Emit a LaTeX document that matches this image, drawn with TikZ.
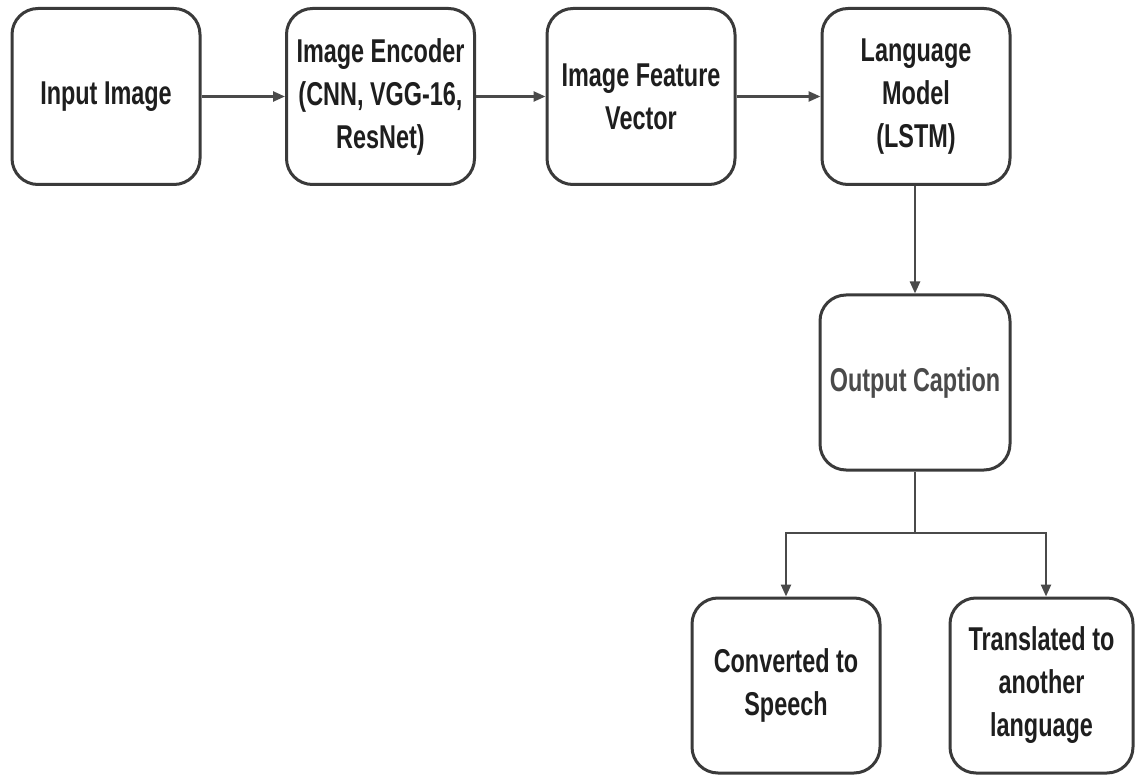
\documentclass[tikz,border=0pt]{standalone}
\usepackage{fontspec}
\setmainfont{Liberation Sans}[FakeStretch=0.71]
\usetikzlibrary{arrows.meta,calc}
\definecolor{edge}{HTML}{3A3A3A}
\definecolor{wire}{HTML}{4A4A4A}
\definecolor{ink}{HTML}{1E1E1E}
\definecolor{softink}{HTML}{4A4A4A}
\tikzset{
  block/.style={draw=edge, line width=3pt, rounded corners=26pt, fill=white,
    minimum width=188pt, minimum height=176pt, align=center, inner sep=0pt,
    text=ink, font=\fontsize{33}{43}\selectfont\bfseries},
  flow/.style={draw=wire, line width=2.4pt,
    -{Triangle[length=12pt,width=10pt]}},
  wireline/.style={draw=wire, line width=2.4pt},
}
\begin{document}
\begin{tikzpicture}[x=1pt,y=-1pt]
  \useasboundingbox (0,0) rectangle (1135,775);
  % top row
  \node[block] (inp) at (106,96.5) {Input Image};
  \node[block] (enc) at (380.5,96.5) {Image Encoder\\(CNN, VGG-16,\\ResNet)};
  \node[block] (feat) at (641,96.5) {Image Feature\\Vector};
  \node[block] (lm) at (916,96.5) {Language\\Model\\(LSTM)};
  % caption
  \node[block, minimum width=190pt, minimum height=175pt, text=softink] (cap) at (915,382.5) {Output Caption};
  % outputs
  \node[block, minimum height=175pt] (speech) at (786,685.5) {Converted to\\Speech};
  \node[block, minimum width=183pt, minimum height=175pt] (trans) at (1041.5,685.5) {Translated to\\another\\language};
  % connectors
  \draw[flow] (inp.east) -- (enc.west);
  \draw[flow] (enc.east) -- (feat.west);
  \draw[flow] (feat.east) -- (lm.west);
  \draw[flow] (lm.south -| cap.north) -- (cap.north);
  \coordinate (split) at (915,533);
  \draw[wireline] (cap.south) -- (split);
  \draw[flow] (split) -| (speech.north);
  \draw[flow] (split) -| ($(trans.north)+(4.5,0)$);
\end{tikzpicture}
\end{document}
